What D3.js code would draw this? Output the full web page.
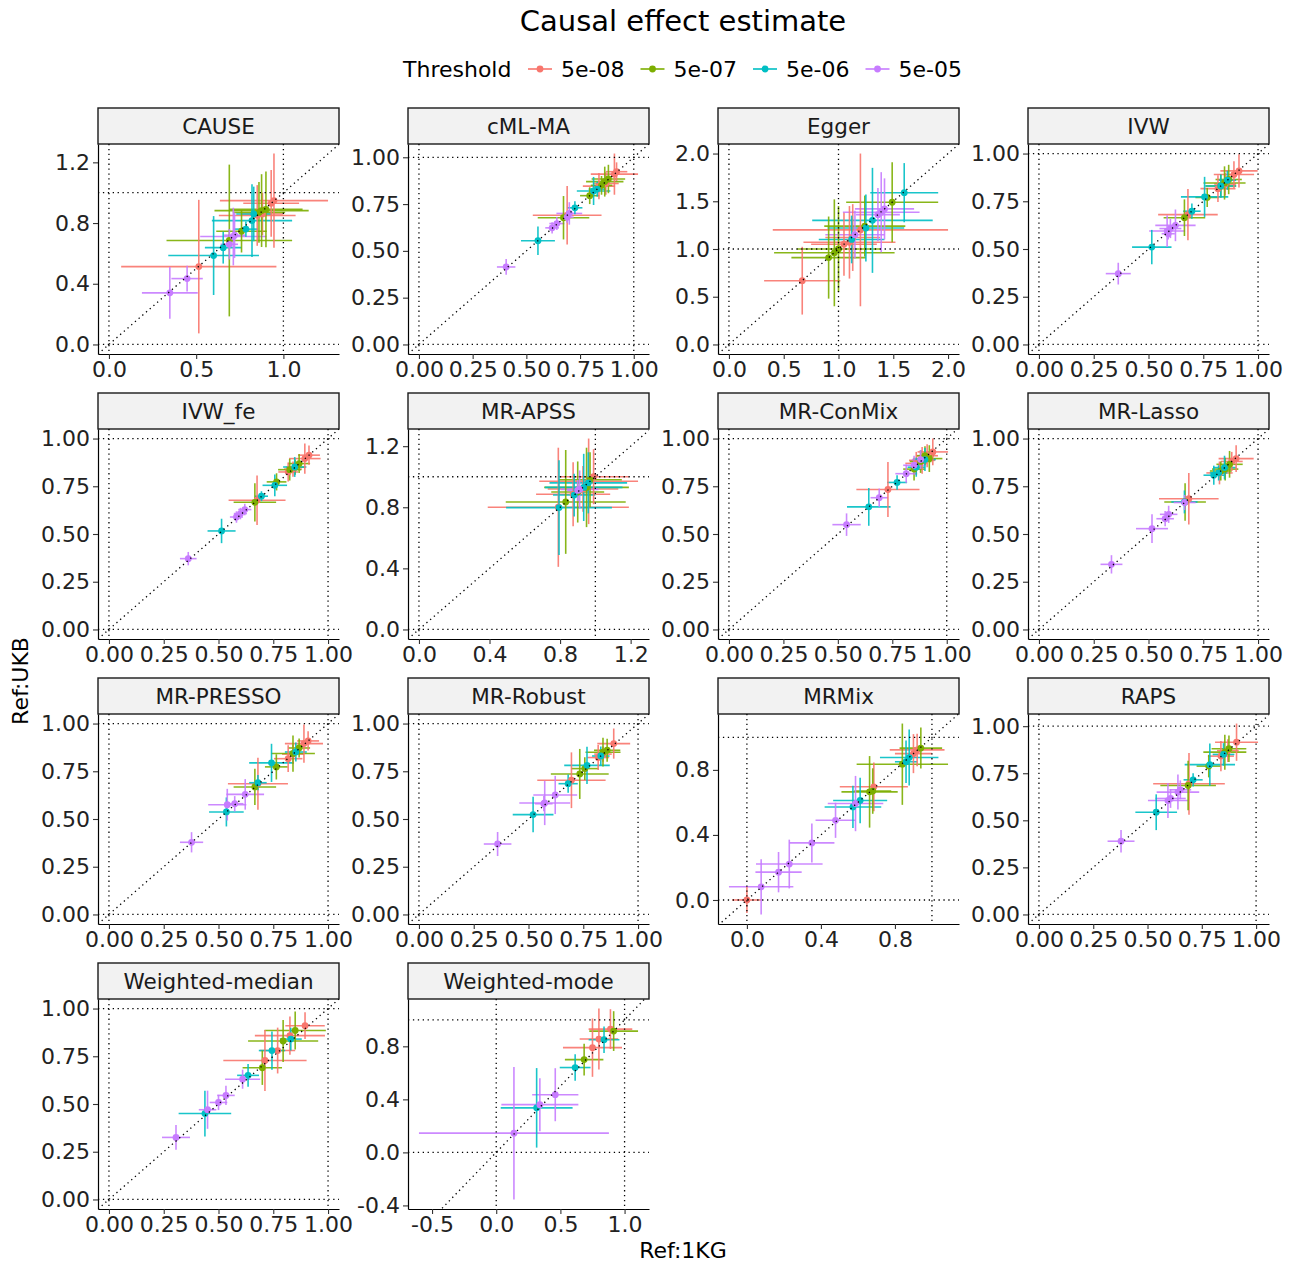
<!DOCTYPE html>
<html>
<head>
<meta charset="utf-8">
<script src="https://cdn.jsdelivr.net/npm/d3@7"></script>
<style>
  body { margin: 0; background: #fff; }
  svg { font-family: "DejaVu Sans", sans-serif; }
</style>
</head>
<body>
<svg id="chart" width="1292" height="1264"></svg>
<script>
const thresholds = ['5e-08', '5e-07', '5e-06', '5e-05'];
const colors = ['#F8766D', '#7CAE00', '#00BFC4', '#C77CFF'];
const methods = ['CAUSE', 'cML-MA', 'Egger', 'IVW', 'IVW_fe', 'MR-APSS', 'MR-ConMix',
  'MR-Lasso', 'MR-PRESSO', 'MR-Robust', 'MRMix', 'RAPS', 'Weighted-median', 'Weighted-mode'];

// each row: [threshold index, estimate Ref:1KG, CI half-width, estimate Ref:UKB, CI half-width]
const cause = [
  [0, 0.515, 0.445, 0.513, 0.44], [0, 0.85, 0.22, 0.85, 0.2], [0, 0.946, 0.31, 0.948, 0.31],
  [0, 0.93, 0.16, 0.93, 0.22], [0, 0.88, 0.12, 0.86, 0.14],
  [1, 0.69, 0.36, 0.685, 0.5], [1, 0.76, 0.145, 0.746, 0.14], [1, 0.875, 0.27, 0.882, 0.24],
  [1, 0.9, 0.21, 0.89, 0.25], [1, 0.86, 0.15, 0.87, 0.2],
  [2, 0.6, 0.26, 0.586, 0.26], [2, 0.655, 0.105, 0.638, 0.105], [2, 0.785, 0.07, 0.76, 0.05],
  [2, 0.82, 0.23, 0.816, 0.24], [2, 0.83, 0.1, 0.86, 0.18],
  [3, 0.349, 0.16, 0.34, 0.17], [3, 0.448, 0.09, 0.434, 0.085], [3, 0.713, 0.19, 0.711, 0.19],
  [3, 0.69, 0.05, 0.66, 0.1], [3, 0.72, 0.06, 0.72, 0.15]
];
const cmlMa = [
  [0, 0.69, 0.16, 0.69, 0.156], [0, 0.838, 0.075, 0.846, 0.07], [0, 0.91, 0.11, 0.91, 0.11],
  [0, 0.92, 0.05, 0.923, 0.05], [0, 0.87, 0.06, 0.86, 0.06],
  [1, 0.673, 0.12, 0.677, 0.116], [1, 0.795, 0.045, 0.795, 0.045], [1, 0.865, 0.087, 0.87, 0.08],
  [1, 0.882, 0.078, 0.884, 0.076], [1, 0.85, 0.05, 0.85, 0.05],
  [2, 0.554, 0.079, 0.554, 0.076], [2, 0.726, 0.035, 0.73, 0.035], [2, 0.813, 0.078, 0.82, 0.075],
  [2, 0.83, 0.04, 0.83, 0.04],
  [3, 0.406, 0.043, 0.414, 0.042], [3, 0.62, 0.032, 0.623, 0.03], [3, 0.642, 0.035, 0.646, 0.035],
  [3, 0.7, 0.06, 0.7, 0.06], [3, 0.69, 0.03, 0.68, 0.03]
];
const egger = [
  [0, 0.669, 0.348, 0.668, 0.355], [0, 1.2, 0.8, 1.2, 0.8], [0, 1.1, 0.42, 1.07, 0.38],
  [0, 1.05, 0.3, 1.05, 0.33], [0, 1.13, 0.25, 1.12, 0.35],
  [1, 0.91, 0.34, 0.91, 0.43], [1, 0.962, 0.55, 0.96, 0.56], [1, 1.0, 0.38, 1.0, 0.45],
  [1, 1.24, 0.37, 1.24, 0.32], [1, 1.49, 0.42, 1.49, 0.42],
  [2, 1.25, 0.35, 1.22, 0.35], [2, 1.31, 0.55, 1.3, 0.55], [2, 1.6, 0.31, 1.59, 0.31],
  [2, 1.12, 0.3, 1.1, 0.25],
  [3, 1.15, 0.27, 1.15, 0.25], [3, 1.39, 0.35, 1.385, 0.42], [3, 1.42, 0.27, 1.42, 0.32],
  [3, 1.36, 0.2, 1.36, 0.28]
];
const ivw = [
  [0, 0.68, 0.136, 0.68, 0.134], [0, 0.817, 0.08, 0.816, 0.07], [0, 0.89, 0.092, 0.89, 0.07],
  [0, 0.913, 0.085, 0.909, 0.087], [0, 0.85, 0.05, 0.84, 0.06],
  [1, 0.664, 0.095, 0.664, 0.096], [1, 0.768, 0.054, 0.77, 0.05], [1, 0.847, 0.096, 0.846, 0.087],
  [1, 0.866, 0.06, 0.864, 0.077], [1, 0.83, 0.07, 0.83, 0.06],
  [2, 0.515, 0.09, 0.51, 0.09], [2, 0.698, 0.04, 0.698, 0.04], [2, 0.756, 0.108, 0.773, 0.105],
  [2, 0.83, 0.07, 0.83, 0.06], [2, 0.86, 0.04, 0.86, 0.05],
  [3, 0.362, 0.057, 0.371, 0.057], [3, 0.585, 0.082, 0.594, 0.083], [3, 0.6, 0.05, 0.607, 0.05],
  [3, 0.623, 0.092, 0.624, 0.083], [3, 0.59, 0.03, 0.58, 0.03]
];
const ivwFe = [
  [0, 0.676, 0.13, 0.677, 0.13], [0, 0.818, 0.045, 0.825, 0.05], [0, 0.894, 0.072, 0.895, 0.079],
  [0, 0.913, 0.05, 0.913, 0.05], [0, 0.84, 0.04, 0.84, 0.04],
  [1, 0.666, 0.097, 0.666, 0.1], [1, 0.765, 0.045, 0.773, 0.045], [1, 0.825, 0.053, 0.837, 0.057],
  [1, 0.868, 0.05, 0.869, 0.05], [1, 0.85, 0.04, 0.85, 0.04],
  [2, 0.514, 0.064, 0.516, 0.064], [2, 0.696, 0.03, 0.698, 0.026], [2, 0.757, 0.056, 0.755, 0.057],
  [2, 0.848, 0.053, 0.851, 0.052],
  [3, 0.362, 0.038, 0.371, 0.035], [3, 0.582, 0.03, 0.589, 0.03], [3, 0.6, 0.03, 0.607, 0.03],
  [3, 0.62, 0.03, 0.628, 0.03]
];
const mrApss = [
  [0, 0.79, 0.4, 0.8, 0.39], [0, 0.874, 0.21, 0.885, 0.21], [0, 0.962, 0.28, 0.97, 0.28],
  [0, 0.99, 0.2, 1.0, 0.18], [0, 0.93, 0.2, 0.92, 0.15],
  [1, 0.832, 0.34, 0.835, 0.34], [1, 0.95, 0.24, 0.93, 0.26], [1, 0.97, 0.18, 0.98, 0.18],
  [1, 0.9, 0.15, 0.9, 0.2],
  [2, 0.794, 0.3, 0.798, 0.31], [2, 0.934, 0.22, 0.93, 0.22], [2, 0.96, 0.22, 0.96, 0.2],
  [2, 0.88, 0.12, 0.88, 0.14],
  [3, 0.911, 0.107, 0.917, 0.124], [3, 0.9, 0.06, 0.91, 0.07]
];
const mrConmix = [
  [0, 0.73, 0.145, 0.733, 0.144], [0, 0.887, 0.06, 0.886, 0.07], [0, 0.936, 0.07, 0.93, 0.07],
  [0, 0.91, 0.05, 0.91, 0.06], [0, 0.86, 0.05, 0.87, 0.06],
  [1, 0.92, 0.06, 0.895, 0.07], [1, 0.88, 0.05, 0.88, 0.06], [1, 0.85, 0.05, 0.84, 0.06],
  [1, 0.9, 0.04, 0.91, 0.05],
  [2, 0.642, 0.1, 0.642, 0.099], [2, 0.772, 0.046, 0.77, 0.038], [2, 0.9, 0.05, 0.89, 0.06],
  [2, 0.86, 0.04, 0.85, 0.05],
  [3, 0.54, 0.065, 0.549, 0.059], [3, 0.69, 0.04, 0.69, 0.048], [3, 0.814, 0.05, 0.816, 0.048],
  [3, 0.85, 0.05, 0.86, 0.05], [3, 0.88, 0.04, 0.89, 0.05]
];
const mrLasso = [
  [0, 0.684, 0.136, 0.685, 0.135], [0, 0.824, 0.06, 0.82, 0.06], [0, 0.9, 0.08, 0.895, 0.07],
  [0, 0.88, 0.05, 0.88, 0.05],
  [1, 0.667, 0.095, 0.668, 0.098], [1, 0.87, 0.06, 0.865, 0.07], [1, 0.85, 0.06, 0.84, 0.06],
  [1, 0.83, 0.05, 0.83, 0.05],
  [2, 0.664, 0.06, 0.668, 0.06], [2, 0.798, 0.047, 0.808, 0.05], [2, 0.847, 0.052, 0.848, 0.062],
  [2, 0.82, 0.04, 0.82, 0.04],
  [3, 0.331, 0.05, 0.341, 0.048], [3, 0.516, 0.073, 0.528, 0.075], [3, 0.576, 0.04, 0.58, 0.04],
  [3, 0.592, 0.04, 0.603, 0.045], [3, 0.665, 0.05, 0.665, 0.04]
];
const mrPresso = [
  [0, 0.68, 0.137, 0.685, 0.136], [0, 0.818, 0.065, 0.816, 0.07], [0, 0.89, 0.087, 0.895, 0.1],
  [0, 0.909, 0.05, 0.909, 0.05], [0, 0.84, 0.05, 0.84, 0.05],
  [1, 0.666, 0.097, 0.668, 0.095], [1, 0.764, 0.052, 0.773, 0.066], [1, 0.84, 0.1, 0.843, 0.095],
  [1, 0.868, 0.05, 0.872, 0.05],
  [2, 0.536, 0.079, 0.537, 0.076], [2, 0.68, 0.04, 0.69, 0.04], [2, 0.742, 0.102, 0.794, 0.1],
  [2, 0.853, 0.05, 0.851, 0.05],
  [3, 0.377, 0.053, 0.378, 0.053], [3, 0.54, 0.087, 0.575, 0.083], [3, 0.574, 0.04, 0.58, 0.04],
  [3, 0.622, 0.086, 0.629, 0.08]
];
const mrRobust = [
  [0, 0.696, 0.156, 0.703, 0.146], [0, 0.818, 0.05, 0.822, 0.065], [0, 0.889, 0.075, 0.895, 0.079],
  [0, 0.84, 0.04, 0.84, 0.04],
  [1, 0.734, 0.132, 0.736, 0.131], [1, 0.757, 0.063, 0.764, 0.06], [1, 0.84, 0.08, 0.85, 0.075],
  [1, 0.859, 0.06, 0.86, 0.06],
  [2, 0.521, 0.093, 0.523, 0.093], [2, 0.681, 0.044, 0.685, 0.048], [2, 0.767, 0.104, 0.781, 0.098],
  [2, 0.83, 0.04, 0.83, 0.05],
  [3, 0.359, 0.063, 0.369, 0.063], [3, 0.574, 0.116, 0.584, 0.116], [3, 0.622, 0.1, 0.626, 0.1],
  [3, 0.57, 0.04, 0.58, 0.04]
];
const mrMix = [
  [0, 0.0, 0.08, 0.0, 0.08], [0, 0.686, 0.184, 0.696, 0.15], [0, 0.92, 0.148, 0.923, 0.1],
  [0, 0.9, 0.1, 0.9, 0.12],
  [1, 0.663, 0.152, 0.665, 0.22], [1, 0.84, 0.247, 0.835, 0.25], [1, 0.94, 0.115, 0.934, 0.126],
  [1, 0.68, 0.1, 0.67, 0.14],
  [2, 0.573, 0.153, 0.572, 0.13], [2, 0.612, 0.146, 0.612, 0.14], [2, 0.877, 0.158, 0.876, 0.172],
  [2, 0.86, 0.06, 0.85, 0.13],
  [3, 0.077, 0.174, 0.081, 0.17], [3, 0.171, 0.125, 0.171, 0.124], [3, 0.229, 0.18, 0.221, 0.15],
  [3, 0.351, 0.122, 0.351, 0.12], [3, 0.479, 0.108, 0.49, 0.108], [3, 0.587, 0.15, 0.593, 0.17]
];
const raps = [
  [0, 0.691, 0.165, 0.694, 0.164], [0, 0.838, 0.06, 0.841, 0.08], [0, 0.91, 0.099, 0.915, 0.099],
  [0, 0.87, 0.05, 0.87, 0.06],
  [1, 0.687, 0.128, 0.685, 0.131], [1, 0.782, 0.056, 0.788, 0.06], [1, 0.856, 0.099, 0.862, 0.093],
  [1, 0.875, 0.08, 0.88, 0.07],
  [2, 0.54, 0.096, 0.543, 0.095], [2, 0.71, 0.044, 0.715, 0.035], [2, 0.787, 0.116, 0.796, 0.112],
  [2, 0.85, 0.05, 0.85, 0.06],
  [3, 0.378, 0.062, 0.389, 0.06], [3, 0.594, 0.092, 0.605, 0.093], [3, 0.606, 0.07, 0.616, 0.05],
  [3, 0.64, 0.098, 0.65, 0.093], [3, 0.651, 0.05, 0.662, 0.05]
];
const wMedian = [
  [0, 0.712, 0.19, 0.728, 0.16], [0, 0.77, 0.08, 0.78, 0.12], [0, 0.826, 0.16, 0.858, 0.1],
  [0, 0.895, 0.09, 0.91, 0.07],
  [1, 0.7, 0.09, 0.69, 0.09], [1, 0.795, 0.16, 0.83, 0.11], [1, 0.85, 0.14, 0.885, 0.1],
  [2, 0.438, 0.12, 0.45, 0.12], [2, 0.635, 0.05, 0.65, 0.06], [2, 0.744, 0.06, 0.78, 0.1],
  [2, 0.83, 0.05, 0.84, 0.06],
  [3, 0.306, 0.064, 0.325, 0.065], [3, 0.45, 0.04, 0.47, 0.1], [3, 0.5, 0.04, 0.508, 0.04],
  [3, 0.534, 0.04, 0.545, 0.05], [3, 0.61, 0.08, 0.63, 0.05]
];
const wMode = [
  [0, 0.75, 0.23, 0.79, 0.22], [0, 0.8, 0.15, 0.855, 0.23], [0, 0.89, 0.17, 0.93, 0.15],
  [1, 0.685, 0.15, 0.7, 0.12], [1, 0.915, 0.19, 0.915, 0.15],
  [2, 0.315, 0.28, 0.336, 0.3], [2, 0.615, 0.12, 0.64, 0.1], [2, 0.84, 0.12, 0.85, 0.1],
  [3, 0.138, 0.74, 0.145, 0.5], [3, 0.34, 0.3, 0.36, 0.2], [3, 0.46, 0.18, 0.435, 0.2]
];

const quarterTicks = [0, 0.25, 0.5, 0.75, 1];
const xTicks = [[0, 0.5, 1], quarterTicks, [0, 0.5, 1, 1.5, 2], quarterTicks, quarterTicks,
  [0, 0.4, 0.8, 1.2], quarterTicks, quarterTicks, quarterTicks, quarterTicks, [0, 0.4, 0.8],
  quarterTicks, quarterTicks, [-0.5, 0, 0.5, 1]];
const yTicks = [[0, 0.4, 0.8, 1.2], quarterTicks, [0, 0.5, 1, 1.5, 2], quarterTicks, quarterTicks,
  [0, 0.4, 0.8, 1.2], quarterTicks, quarterTicks, quarterTicks, quarterTicks, [0, 0.4, 0.8],
  quarterTicks, quarterTicks, [-0.4, 0, 0.4, 0.8]];

const panelData = [cause, cmlMa, egger, ivw, ivwFe, mrApss, mrConmix, mrLasso, mrPresso,
  mrRobust, mrMix, raps, wMedian, wMode];

const svg = d3.select('#chart');
const panelW = 241, panelH = 210, stripH = 36;
const colX = [98, 408, 718, 1028];
const rowY = [108, 393, 678, 963];

// ggplot-like limits: data plus reference lines at 0 and 1, padded by 5%
const limits = (lo, hi) => {
  const a = Math.min(0, lo), b = Math.max(1, hi), pad = (b - a) * 0.05;
  return [a - pad, b + pad];
};
const decimals = ticks => d3.max(ticks, t => {
  const s = String(t).split('.')[1];
  return s ? s.length : 0;
});

methods.forEach((name, i) => {
  const rows = panelData[i];
  const left = colX[i % 4];
  const top = rowY[Math.floor(i / 4)] + stripH;

  const x = d3.scaleLinear()
    .domain(limits(d3.min(rows, r => r[1] - r[2]), d3.max(rows, r => r[1] + r[2])))
    .range([0, panelW]);
  const y = d3.scaleLinear()
    .domain(limits(d3.min(rows, r => r[3] - r[4]), d3.max(rows, r => r[3] + r[4])))
    .range([panelH, 0]);

  // strip
  svg.append('rect')
    .attr('x', left).attr('y', top - stripH)
    .attr('width', panelW).attr('height', stripH)
    .attr('fill', '#F2F2F2').attr('stroke', '#1a1a1a').attr('stroke-width', 1.4);
  svg.append('text')
    .attr('x', left + panelW / 2).attr('y', top - stripH / 2)
    .attr('dy', '0.36em')
    .attr('text-anchor', 'middle')
    .style('font-size', '21.5px').attr('fill', '#1a1a1a')
    .text(name);

  const g = svg.append('g').attr('transform', `translate(${left},${top})`);
  g.append('clipPath').attr('id', `clip${i}`)
    .append('rect').attr('width', panelW).attr('height', panelH);
  const plot = g.append('g').attr('clip-path', `url(#clip${i})`);

  plot.selectAll('line.h').data(rows).enter().append('line')
    .attr('x1', r => x(r[1] - r[2])).attr('x2', r => x(r[1] + r[2]))
    .attr('y1', r => y(r[3])).attr('y2', r => y(r[3]))
    .attr('stroke', r => colors[r[0]]).attr('stroke-width', 1.6).attr('stroke-opacity', 0.9);
  plot.selectAll('line.v').data(rows).enter().append('line')
    .attr('x1', r => x(r[1])).attr('x2', r => x(r[1]))
    .attr('y1', r => y(r[3] - r[4])).attr('y2', r => y(r[3] + r[4]))
    .attr('stroke', r => colors[r[0]]).attr('stroke-width', 1.6).attr('stroke-opacity', 0.9);
  plot.selectAll('circle').data(rows).enter().append('circle')
    .attr('cx', r => x(r[1])).attr('cy', r => y(r[3])).attr('r', 3.4)
    .attr('fill', r => colors[r[0]]);

  // reference lines
  const dotted = sel => sel.attr('stroke', '#000').attr('stroke-width', 1.3)
    .attr('stroke-dasharray', '1.3,3.6').attr('fill', 'none');
  [0, 1].forEach(v => {
    plot.append('line').attr('x1', 0).attr('x2', panelW)
      .attr('y1', y(v)).attr('y2', y(v)).call(dotted);
    plot.append('line').attr('y1', 0).attr('y2', panelH)
      .attr('x1', x(v)).attr('x2', x(v)).call(dotted);
  });
  const lo = Math.min(x.domain()[0], y.domain()[0]);
  const hi = Math.max(x.domain()[1], y.domain()[1]);
  plot.append('line')
    .attr('x1', x(lo)).attr('y1', y(lo)).attr('x2', x(hi)).attr('y2', y(hi))
    .call(dotted);

  // axes
  const xd = decimals(xTicks[i]), yd = decimals(yTicks[i]);
  const xAxis = g.append('g').attr('transform', `translate(0,${panelH})`)
    .call(d3.axisBottom(x).tickValues(xTicks[i]).tickSize(5).tickSizeOuter(0)
      .tickFormat(d => d.toFixed(xd)));
  const yAxis = g.append('g')
    .call(d3.axisLeft(y).tickValues(yTicks[i]).tickSize(5).tickSizeOuter(0)
      .tickFormat(d => d.toFixed(yd)));
  [xAxis, yAxis].forEach(a => {
    a.select('.domain').attr('stroke', '#000').attr('stroke-width', 1.2);
    a.selectAll('.tick line').attr('stroke', '#333').attr('stroke-width', 1.1);
    a.selectAll('.tick text').style('font-size', '22px').attr('fill', '#222')
      .style('font-family', '"DejaVu Sans", sans-serif');
  });
  xAxis.selectAll('.tick text').attr('y', 7);
  yAxis.selectAll('.tick text').attr('x', -8);
});

// title
svg.append('text')
  .attr('x', 683).attr('y', 31)
  .attr('text-anchor', 'middle')
  .style('font-size', '29px').attr('fill', '#000')
  .text('Causal effect estimate');

// legend
const legend = svg.append('g');
legend.append('text')
  .attr('x', 403).attr('y', 69).attr('dy', '0.36em')
  .style('font-size', '22px').attr('fill', '#000')
  .text('Threshold');
thresholds.forEach((t, k) => {
  const cx = 540 + k * 112.5;
  legend.append('line')
    .attr('x1', cx - 12).attr('x2', cx + 12).attr('y1', 69).attr('y2', 69)
    .attr('stroke', colors[k]).attr('stroke-width', 1.6);
  legend.append('circle')
    .attr('cx', cx).attr('cy', 69).attr('r', 3.4).attr('fill', colors[k]);
  legend.append('text')
    .attr('x', cx + 21).attr('y', 69).attr('dy', '0.36em')
    .style('font-size', '22px').attr('fill', '#000')
    .text(t);
});

// axis titles
svg.append('text')
  .attr('x', 683).attr('y', 1258)
  .attr('text-anchor', 'middle')
  .style('font-size', '22px').attr('fill', '#000')
  .text('Ref:1KG');
svg.append('text')
  .attr('transform', 'translate(28,681) rotate(-90)')
  .attr('text-anchor', 'middle')
  .style('font-size', '22px').attr('fill', '#000')
  .text('Ref:UKB');
</script>
</body>
</html>
